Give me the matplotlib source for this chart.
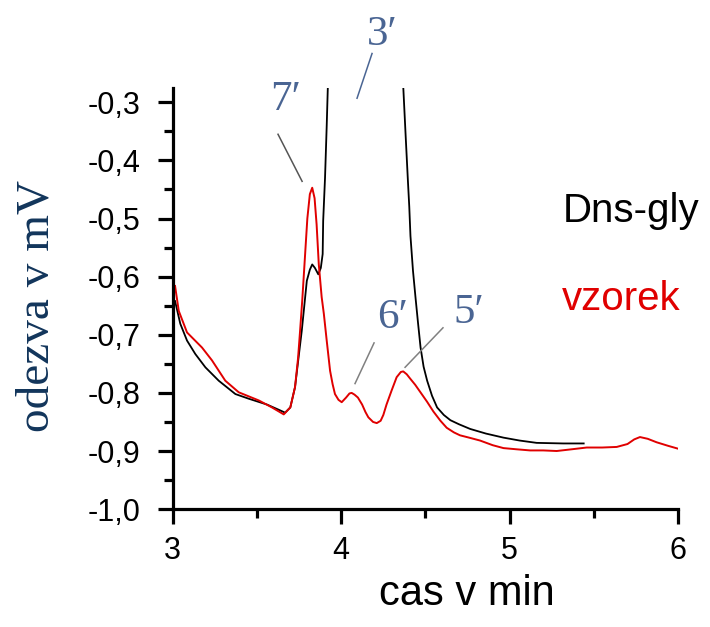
import matplotlib
matplotlib.use("Agg")
from matplotlib import pyplot as plt
from matplotlib.ticker import MultipleLocator, FuncFormatter

# Dns-gly standard (black), peak 3' runs off the top
dns_t = [3.015, 3.046, 3.086, 3.135, 3.195, 3.274, 3.373, 3.452, 3.560, 3.638, 3.668, 3.699,
         3.727, 3.767, 3.797, 3.815, 3.829, 3.845, 3.865, 3.880, 3.891, 3.894,
         3.905, 3.915, 3.923, 3.930, 4.150, 4.360, 4.367, 4.383, 4.397, 4.405, 4.412,
         4.427, 4.442, 4.457, 4.472, 4.490, 4.511, 4.540, 4.570, 4.610, 4.649, 4.700,
         4.766, 4.860, 4.964, 5.060, 5.161, 5.319, 5.440]
dns_y = [-0.642, -0.681, -0.710, -0.733, -0.756, -0.779, -0.802, -0.810, -0.820, -0.830, -0.834, -0.825,
         -0.790, -0.693, -0.607, -0.588, -0.579, -0.585, -0.596, -0.585, -0.561, -0.504,
         -0.430, -0.340, -0.260, -0.150, 1.500, -0.150, -0.260, -0.355, -0.436, -0.480, -0.530,
         -0.590, -0.636, -0.680, -0.722, -0.755, -0.779, -0.805, -0.825, -0.838, -0.847, -0.854,
         -0.862, -0.870, -0.877, -0.882, -0.886, -0.887, -0.887]

# vzorek (red) sample
vz_t = [3.015, 3.037, 3.086, 3.175, 3.234, 3.313, 3.393, 3.512, 3.590, 3.660, 3.699, 3.727,
        3.745, 3.757, 3.770, 3.785, 3.800, 3.815, 3.829, 3.843, 3.855, 3.868, 3.885, 3.898,
        3.915, 3.935, 3.950, 3.964, 3.985, 4.004, 4.030, 4.050, 4.063, 4.080, 4.100, 4.125,
        4.145, 4.162, 4.190, 4.212, 4.235, 4.251, 4.270, 4.300, 4.330, 4.355, 4.369, 4.390,
        4.409, 4.440, 4.469, 4.510, 4.548, 4.590, 4.627, 4.670, 4.706, 4.760, 4.825, 4.900,
        4.964, 5.040, 5.122, 5.200, 5.280, 5.370, 5.458, 5.550, 5.636, 5.700, 5.740, 5.774,
        5.820, 5.873, 5.940, 6.000]
vz_y = [-0.616, -0.659, -0.696, -0.722, -0.744, -0.779, -0.799, -0.813, -0.825, -0.837, -0.825, -0.790,
        -0.740, -0.693, -0.640, -0.570, -0.500, -0.458, -0.447, -0.465, -0.510, -0.579, -0.635, -0.664,
        -0.710, -0.762, -0.785, -0.802, -0.812, -0.816, -0.808, -0.801, -0.800, -0.803, -0.808, -0.820,
        -0.833, -0.842, -0.850, -0.852, -0.848, -0.838, -0.820, -0.796, -0.773, -0.764, -0.763, -0.768,
        -0.775, -0.786, -0.798, -0.815, -0.832, -0.848, -0.860, -0.868, -0.873, -0.877, -0.882, -0.890,
        -0.895, -0.897, -0.899, -0.899, -0.900, -0.897, -0.894, -0.894, -0.893, -0.888, -0.880, -0.876,
        -0.879, -0.885, -0.891, -0.896]

# peak labels: text, text pos, leader line start/end, line colour
peak_names = ["3\u2032", "7\u2032", "6\u2032", "5\u2032"]
peak_text_xy = [(4.243, -0.184), (3.668, -0.295), (4.303, -0.671), (4.760, -0.662)]
peak_line_from = [(4.184, -0.216), (3.626, -0.355), (4.196, -0.714), (4.605, -0.688)]
peak_line_to = [(4.095, -0.293), (3.769, -0.436), (4.083, -0.784), (4.380, -0.756)]
peak_line_col = ["#4a6593", "#555555", "#808080", "#808080"]

fig = plt.figure(figsize=(7.1, 6.27), dpi=100)
ax = fig.add_axes([0.243, 0.188, 0.712, 0.672])

ax.plot(dns_t, dns_y, color="black", lw=1.3)
ax.plot(vz_t, vz_y, color="#e00000", lw=1.4)

ax.set_xlim(3, 6)
ax.set_ylim(-1.0, -0.275)

ax.spines["top"].set_visible(False)
ax.spines["right"].set_visible(False)
ax.spines["left"].set_linewidth(2.3)
ax.spines["bottom"].set_linewidth(2.3)

ax.xaxis.set_major_locator(MultipleLocator(1))
ax.xaxis.set_minor_locator(MultipleLocator(0.5))
ax.yaxis.set_major_locator(MultipleLocator(0.1))
ax.yaxis.set_minor_locator(MultipleLocator(0.05))
ax.yaxis.set_major_formatter(FuncFormatter(lambda v, p: ("%.1f" % v).replace(".", ",")))
ax.xaxis.set_major_formatter(FuncFormatter(lambda v, p: "%d" % v))

ax.tick_params(which="major", direction="out", length=11, width=2.3, labelsize=22)
ax.tick_params(which="minor", direction="out", length=6.5, width=2.3)
ax.tick_params(axis="x", pad=8)
ax.tick_params(axis="y", pad=12)
for lab in ax.get_xticklabels() + ax.get_yticklabels():
    lab.set_family("Liberation Sans")

for name, txy, p0, p1, c in zip(peak_names, peak_text_xy, peak_line_from, peak_line_to, peak_line_col):
    ax.text(txy[0], txy[1], name, ha="center", va="center", fontsize=31,
            family=["Liberation Serif", "DejaVu Serif"], color="#4a6593", clip_on=False)
    ax.plot([p0[0], p1[0]], [p0[1], p1[1]], color=c, lw=1.1, clip_on=False)

fig.text(0.792, 0.646, "Dns-gly", fontsize=29, family="Liberation Sans", color="black", va="baseline")
fig.text(0.792, 0.506, "vzorek", fontsize=29, family="Liberation Sans", color="#e00000", va="baseline")

fig.text(0.658, 0.035, "cas v min", fontsize=30, family="Liberation Sans", ha="center", va="baseline")
fig.text(0.052, 0.512, "odezva v mV", fontsize=34, family="Liberation Serif", color="#12355b",
         rotation=90, ha="center", va="center")

plt.savefig("out.png", dpi=100)
